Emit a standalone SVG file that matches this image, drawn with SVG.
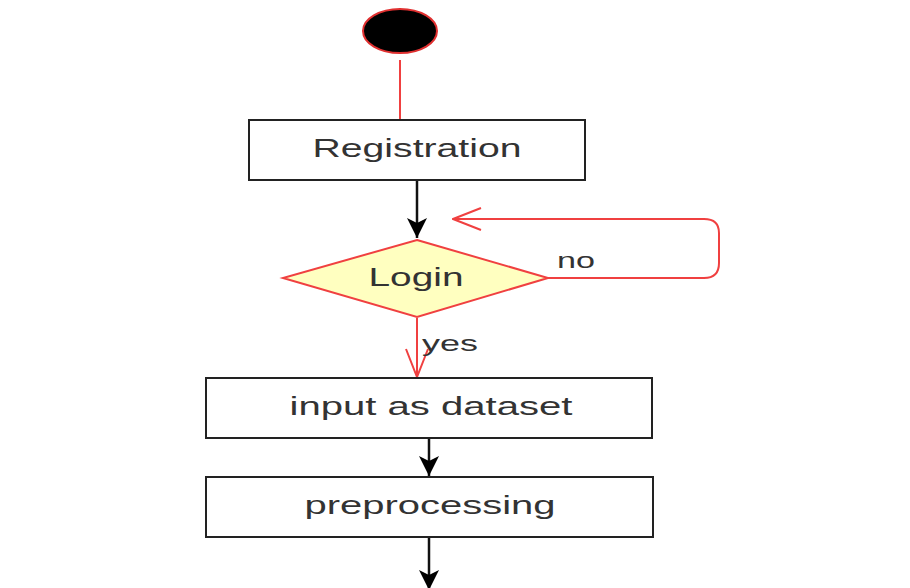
<svg xmlns="http://www.w3.org/2000/svg" width="910" height="588" viewBox="0 0 910 588">
<style>
.box{fill:#fff;stroke:#222;stroke-width:2}
.lbl{font-family:"Liberation Sans",Arial,sans-serif;font-size:25px;fill:#333;text-anchor:middle}
.red{fill:none;stroke:#f04040;stroke-width:2}
.blk{fill:none;stroke:#111;stroke-width:2.5}
</style>
<defs>
<marker id="ab" viewBox="0 0 20 20" refX="20" refY="10" markerWidth="20" markerHeight="20" markerUnits="userSpaceOnUse" orient="auto">
<path d="M0,0 L20,10 L0,20 L5,10 Z" fill="#000"/>
</marker>
<marker id="ar" viewBox="0 0 30 24" refX="29" refY="12" markerWidth="30" markerHeight="24" markerUnits="userSpaceOnUse" orient="auto">
<path d="M1,1 L29,12 L1,23" fill="none" stroke="#f04040" stroke-width="2"/>
</marker>
</defs>
<g id="connectors">
<line class="red" x1="400" y1="60" x2="400" y2="120"/>
<line class="blk" x1="417" y1="181" x2="417" y2="238" marker-end="url(#ab)"/>
<path class="red" d="M548,278 H704 Q719,278 719,263 V233 Q719,219 704,219 H453" marker-end="url(#ar)"/>
<line class="red" x1="417" y1="318" x2="417" y2="377" marker-end="url(#ar)"/>
<line class="blk" x1="429" y1="439" x2="429" y2="476" marker-end="url(#ab)"/>
<line class="blk" x1="429" y1="538" x2="429" y2="590" marker-end="url(#ab)"/>
<text class="lbl" x="576" y="268" textLength="38" lengthAdjust="spacingAndGlyphs" style="font-size:22px">no</text>
<text class="lbl" x="450" y="351" textLength="56" lengthAdjust="spacingAndGlyphs" style="font-size:22px">yes</text>
</g>
<g id="start">
<ellipse cx="400" cy="31" rx="37" ry="22" fill="#000" stroke="#e03030" stroke-width="2"/>
</g>
<g id="registration">
<rect class="box" x="249" y="120" width="336" height="60"/>
<text class="lbl" x="417" y="157" textLength="209" lengthAdjust="spacingAndGlyphs">Registration</text>
</g>
<g id="login">
<polygon points="417,240 548,278 417,317 283,278" fill="#ffffc0" stroke="#f04040" stroke-width="2"/>
<text class="lbl" x="416" y="286" textLength="95" lengthAdjust="spacingAndGlyphs">Login</text>
</g>
<g id="input">
<rect class="box" x="206" y="378" width="446" height="60"/>
<text class="lbl" x="431" y="415" textLength="283" lengthAdjust="spacingAndGlyphs">input as dataset</text>
</g>
<g id="preprocessing">
<rect class="box" x="206" y="477" width="447" height="60"/>
<text class="lbl" x="430" y="514" textLength="251" lengthAdjust="spacingAndGlyphs">preprocessing</text>
</g>
</svg>
